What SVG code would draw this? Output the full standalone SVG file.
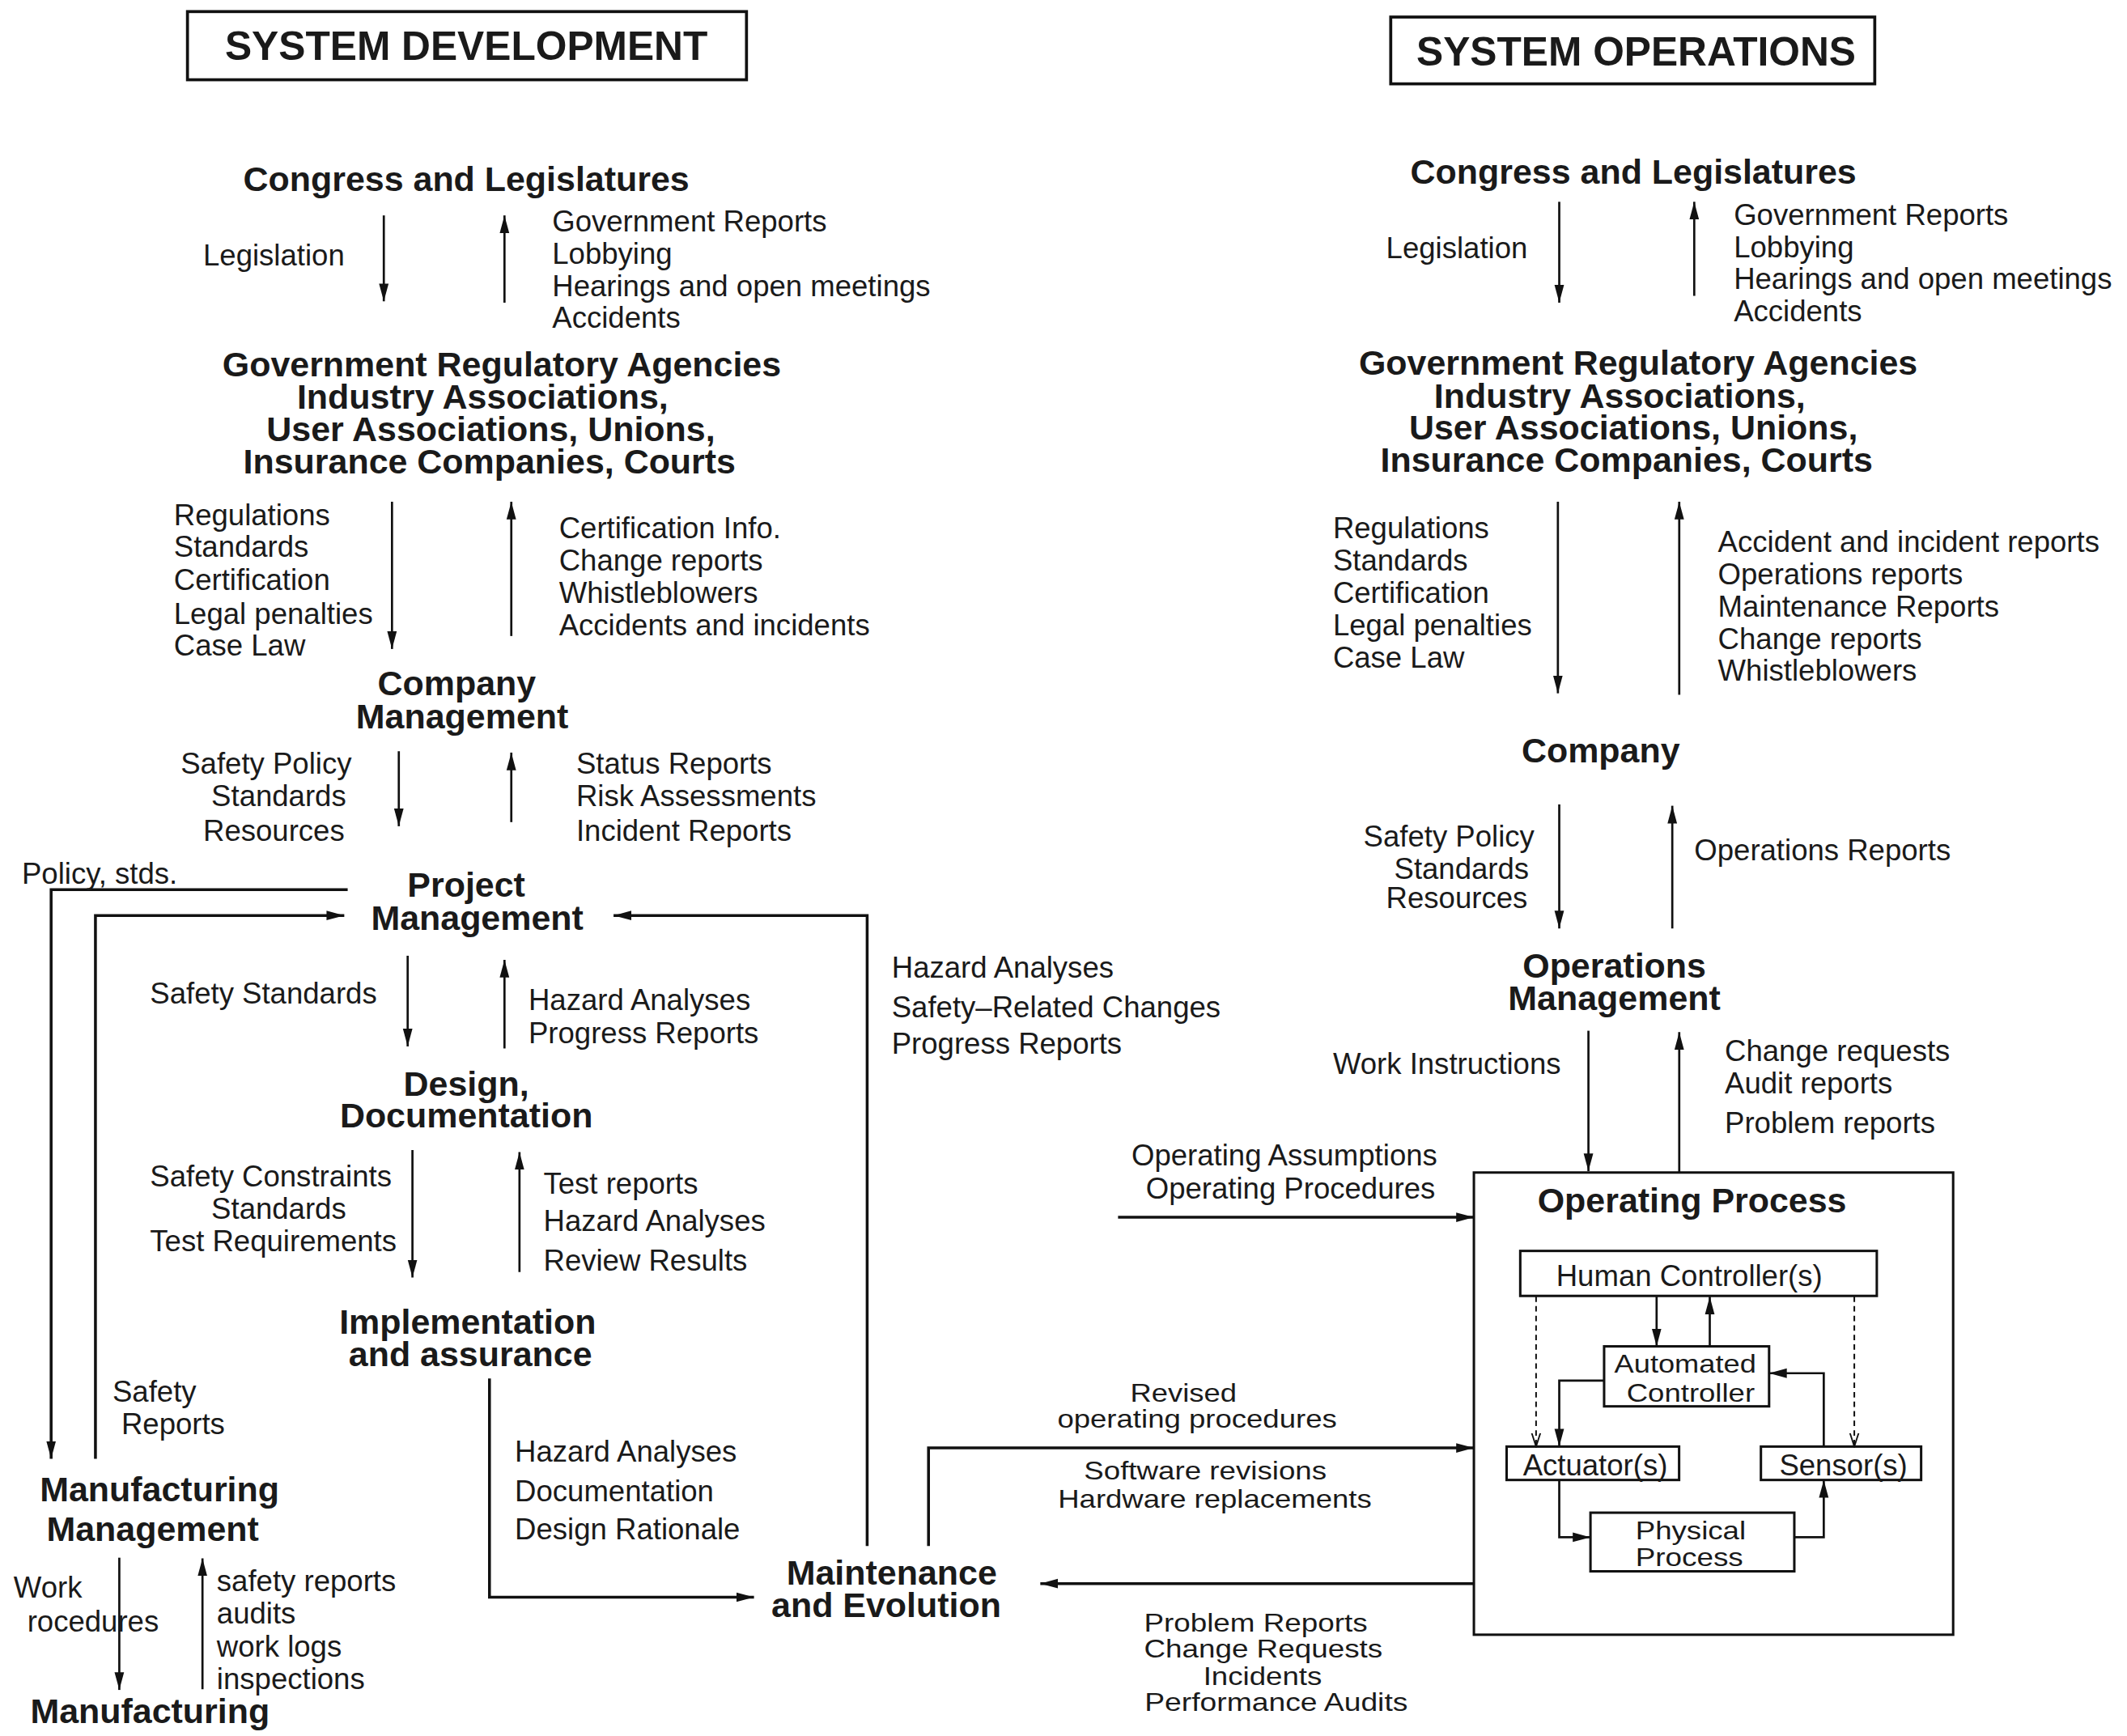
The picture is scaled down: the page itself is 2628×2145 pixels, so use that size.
<svg xmlns="http://www.w3.org/2000/svg" width="2628" height="2145" viewBox="0 0 2628 2145">
<defs>
<style>
text{font-family:"Liberation Sans",Arial,sans-serif;fill:#1a1a1a}
.h{font-size:25.5px;font-weight:bold;text-anchor:middle}
.ti{font-size:29.5px;font-weight:bold;text-anchor:middle}
.t{font-size:21.7px}
.s{font-size:19px}
.m{text-anchor:middle}
.box{fill:none;stroke:#111;stroke-width:1.8}
.tb{fill:none;stroke:#111;stroke-width:2.2}
.ln{fill:none;stroke:#111;stroke-width:1.6}
.lt{fill:none;stroke:#111;stroke-width:2.1}
.ds{fill:none;stroke:#111;stroke-width:1.2;stroke-dasharray:4 3}
</style>
<marker id="ah" markerUnits="userSpaceOnUse" markerWidth="14" markerHeight="8" refX="13" refY="4" orient="auto"><path d="M0,0.5 L13,4 L0,7.5 z" fill="#111"/></marker>
<marker id="ov" markerUnits="userSpaceOnUse" markerWidth="11" markerHeight="8" refX="10" refY="4" orient="auto"><path d="M0,0.8 L10,4 L0,7.2" fill="none" stroke="#111" stroke-width="1.1"/></marker>
</defs>
<rect width="2628" height="2145" fill="#fff"/>
<g transform="scale(1.684615)">

<g id="title-dev"><rect class="tb" x="137.5" y="8.5" width="410" height="50"/><text class="ti" x="342" y="44">SYSTEM DEVELOPMENT</text></g>
<g id="title-ops"><rect class="tb" x="1020" y="12.5" width="355" height="49"/><text class="ti" x="1200" y="48">SYSTEM OPERATIONS</text></g>

<g id="dev-congress"><text class="h" x="342" y="140">Congress and Legislatures</text></g>
<g id="dev-regulators">
<text class="h" x="368" y="276">Government Regulatory Agencies</text>
<text class="h" x="354" y="300">Industry Associations,</text>
<text class="h" x="360" y="323.5">User Associations, Unions,</text>
<text class="h" x="359" y="347">Insurance Companies, Courts</text>
</g>
<g id="dev-company"><text class="h" x="335" y="510">Company</text><text class="h" x="339" y="534">Management</text></g>
<g id="dev-project"><text class="h" x="342" y="658">Project</text><text class="h" x="350" y="682">Management</text></g>
<g id="dev-design"><text class="h" x="342" y="804">Design,</text><text class="h" x="342" y="827">Documentation</text></g>
<g id="dev-impl"><text class="h" x="343" y="978">Implementation</text><text class="h" x="345" y="1002">and assurance</text></g>
<g id="dev-mfgmgmt"><text class="h" x="117" y="1101">Manufacturing</text><text class="h" x="112" y="1130">Management</text></g>
<g id="dev-mfg"><text class="h" x="110" y="1264">Manufacturing</text></g>
<g id="dev-maint"><text class="h" x="654" y="1162">Maintenance</text><text class="h" x="650" y="1186">and Evolution</text></g>

<g id="ops-congress"><text class="h" x="1198" y="135">Congress and Legislatures</text></g>
<g id="ops-regulators">
<text class="h" x="1201.5" y="275">Government Regulatory Agencies</text>
<text class="h" x="1188" y="299">Industry Associations,</text>
<text class="h" x="1198" y="322.5">User Associations, Unions,</text>
<text class="h" x="1193" y="346">Insurance Companies, Courts</text>
</g>
<g id="ops-company"><text class="h" x="1174" y="559">Company</text></g>
<g id="ops-opsmgmt"><text class="h" x="1184" y="717">Operations</text><text class="h" x="1184" y="741">Management</text></g>
<g id="ops-process">
<rect class="box" x="1081" y="860" width="351.5" height="339"/>
<text class="h" x="1241" y="889">Operating Process</text>
</g>
<g id="ops-human"><rect class="box" x="1115" y="917.5" width="261.5" height="33"/><text class="t m" x="1239" y="943.5">Human Controller(s)</text></g>
<g id="ops-auto"><rect class="box" x="1176.5" y="987.5" width="121" height="44"/><text class="s m" x="1236" y="1007" textLength="104" lengthAdjust="spacingAndGlyphs">Automated</text><text class="s m" x="1240" y="1028" textLength="94" lengthAdjust="spacingAndGlyphs">Controller</text></g>
<g id="ops-actuator"><rect class="box" x="1105" y="1061" width="126.5" height="24.5"/><text class="t m" x="1170" y="1082">Actuator(s)</text></g>
<g id="ops-sensor"><rect class="box" x="1291.5" y="1061" width="117.5" height="24.5"/><text class="t m" x="1352" y="1082">Sensor(s)</text></g>
<g id="ops-physical"><rect class="box" x="1166.5" y="1109.5" width="149.5" height="43"/><text class="s m" x="1240" y="1129" textLength="81" lengthAdjust="spacingAndGlyphs">Physical</text><text class="s m" x="1239" y="1148.5" textLength="79" lengthAdjust="spacingAndGlyphs">Process</text></g>

<g id="connectors">
<path class="ln" d="M281.5,158 V221" marker-end="url(#ah)"/>
<path class="ln" d="M370,222 V158" marker-end="url(#ah)"/>
<path class="ln" d="M287.5,368 V476" marker-end="url(#ah)"/>
<path class="ln" d="M375,466.5 V368" marker-end="url(#ah)"/>
<path class="ln" d="M292.5,551 V606" marker-end="url(#ah)"/>
<path class="ln" d="M375,603 V552" marker-end="url(#ah)"/>
<path class="lt" d="M255,652.5 H37.5 V1070" marker-end="url(#ah)"/>
<path class="lt" d="M70,1070 V671.5 H252.5" marker-end="url(#ah)"/>
<path class="ln" d="M299,701 V767.5" marker-end="url(#ah)"/>
<path class="ln" d="M370,769 V704" marker-end="url(#ah)"/>
<path class="ln" d="M302.5,843.5 V937" marker-end="url(#ah)"/>
<path class="ln" d="M381,933 V845" marker-end="url(#ah)"/>
<path class="lt" d="M359,1011 V1171.5 H553" marker-end="url(#ah)"/>
<path class="lt" d="M636,1134 V671.5 H450" marker-end="url(#ah)"/>
<path class="ln" d="M87.5,1142.5 V1239.5" marker-end="url(#ah)"/>
<path class="ln" d="M148.5,1239 V1143" marker-end="url(#ah)"/>
<path class="lt" d="M1081,1161.5 H763" marker-end="url(#ah)"/>
<path class="lt" d="M681,1134 V1062 H1081" marker-end="url(#ah)"/>
<path class="ln" d="M1143.6,148 V222" marker-end="url(#ah)"/>
<path class="ln" d="M1242.6,217 V148" marker-end="url(#ah)"/>
<path class="ln" d="M1142.6,368 V508.5" marker-end="url(#ah)"/>
<path class="ln" d="M1231.6,509.6 V368" marker-end="url(#ah)"/>
<path class="ln" d="M1143.6,590 V681" marker-end="url(#ah)"/>
<path class="ln" d="M1226.5,681 V591" marker-end="url(#ah)"/>
<path class="ln" d="M1165,756 V859" marker-end="url(#ah)"/>
<path class="ln" d="M1231.6,860 V757" marker-end="url(#ah)"/>
<path class="lt" d="M820,892.8 H1081" marker-end="url(#ah)"/>
<path class="ds" d="M1126.6,951 V1061" marker-end="url(#ov)"/>
<path class="ds" d="M1360,951 V1061" marker-end="url(#ov)"/>
<path class="ln" d="M1215,951 V987.5" marker-end="url(#ah)"/>
<path class="ln" d="M1254,987.5 V951" marker-end="url(#ah)"/>
<path class="ln" d="M1176.5,1012.6 H1143.6 V1061" marker-end="url(#ah)"/>
<path class="ln" d="M1337.6,1061 V1007.2 H1297.5" marker-end="url(#ah)"/>
<path class="ln" d="M1143.6,1085.5 V1127.5 H1166.5" marker-end="url(#ah)"/>
<path class="ln" d="M1316,1127.5 H1337.6 V1085.5" marker-end="url(#ah)"/>
</g>

<g id="labels">
<text class="t" x="149" y="194.5">Legislation</text>
<text class="t" x="405" y="170">Government Reports</text>
<text class="t" x="405" y="193.5">Lobbying</text>
<text class="t" x="405" y="217">Hearings and open meetings</text>
<text class="t" x="405" y="240.5">Accidents</text>
<text class="t" x="127.5" y="385">Regulations</text>
<text class="t" x="127.5" y="408.5">Standards</text>
<text class="t" x="127.5" y="433">Certification</text>
<text class="t" x="127.5" y="457.5">Legal penalties</text>
<text class="t" x="127.5" y="481">Case Law</text>
<text class="t" x="410" y="395">Certification Info.</text>
<text class="t" x="410" y="418.5">Change reports</text>
<text class="t" x="410" y="442">Whistleblowers</text>
<text class="t" x="410" y="466">Accidents and incidents</text>
<text class="t" x="132.5" y="567.5">Safety Policy</text>
<text class="t" x="155" y="591">Standards</text>
<text class="t" x="149" y="616.5">Resources</text>
<text class="t" x="422.6" y="567.5">Status Reports</text>
<text class="t" x="422.6" y="591">Risk Assessments</text>
<text class="t" x="422.6" y="616.5">Incident Reports</text>
<text class="t" x="16" y="648">Policy, stds.</text>
<text class="t" x="110" y="736">Safety Standards</text>
<text class="t" x="387.6" y="741">Hazard Analyses</text>
<text class="t" x="387.6" y="765">Progress Reports</text>
<text class="t" x="654" y="717">Hazard Analyses</text>
<text class="t" x="654" y="746">Safety–Related Changes</text>
<text class="t" x="654" y="773">Progress Reports</text>
<text class="t" x="110" y="870.5">Safety Constraints</text>
<text class="t" x="155" y="894">Standards</text>
<text class="t" x="110" y="918">Test Requirements</text>
<text class="t" x="398.6" y="875.5">Test reports</text>
<text class="t" x="398.6" y="903">Hazard Analyses</text>
<text class="t" x="398.6" y="932">Review Results</text>
<text class="t" x="82.5" y="1028">Safety</text>
<text class="t" x="89" y="1052">Reports</text>
<text class="t" x="377.6" y="1072">Hazard Analyses</text>
<text class="t" x="377.6" y="1101">Documentation</text>
<text class="t" x="377.6" y="1129">Design Rationale</text>
<text class="t" x="10" y="1172">Work</text>
<text class="t" x="20" y="1197">rocedures</text>
<text class="t" x="159" y="1167">safety reports</text>
<text class="t" x="159" y="1191">audits</text>
<text class="t" x="159" y="1215">work logs</text>
<text class="t" x="159" y="1239">inspections</text>
<text class="s m" x="868" y="1028" textLength="78" lengthAdjust="spacingAndGlyphs">Revised</text>
<text class="s m" x="878" y="1047" textLength="205" lengthAdjust="spacingAndGlyphs">operating procedures</text>
<text class="s m" x="884" y="1085" textLength="178" lengthAdjust="spacingAndGlyphs">Software revisions</text>
<text class="s m" x="891" y="1106" textLength="230" lengthAdjust="spacingAndGlyphs">Hardware replacements</text>
<text class="s m" x="921" y="1197" textLength="164" lengthAdjust="spacingAndGlyphs">Problem Reports</text>
<text class="s m" x="926.5" y="1216" textLength="175" lengthAdjust="spacingAndGlyphs">Change Requests</text>
<text class="s m" x="926" y="1236" textLength="87" lengthAdjust="spacingAndGlyphs">Incidents</text>
<text class="s m" x="936" y="1255" textLength="193" lengthAdjust="spacingAndGlyphs">Performance Audits</text>

<text class="t" x="1016.6" y="189.5">Legislation</text>
<text class="t" x="1271.6" y="165">Government Reports</text>
<text class="t" x="1271.6" y="188.5">Lobbying</text>
<text class="t" x="1271.6" y="212">Hearings and open meetings</text>
<text class="t" x="1271.6" y="235.5">Accidents</text>
<text class="t" x="977.6" y="395">Regulations</text>
<text class="t" x="977.6" y="418.5">Standards</text>
<text class="t" x="977.6" y="442">Certification</text>
<text class="t" x="977.6" y="466">Legal penalties</text>
<text class="t" x="977.6" y="489.5">Case Law</text>
<text class="t" x="1260" y="405">Accident and incident reports</text>
<text class="t" x="1260" y="428.5">Operations reports</text>
<text class="t" x="1260" y="452.5">Maintenance Reports</text>
<text class="t" x="1260" y="476">Change reports</text>
<text class="t" x="1260" y="499.5">Whistleblowers</text>
<text class="t" x="1000" y="621">Safety Policy</text>
<text class="t" x="1022.5" y="644.5">Standards</text>
<text class="t" x="1016.6" y="666">Resources</text>
<text class="t" x="1242.6" y="631">Operations Reports</text>
<text class="t" x="977.6" y="788">Work Instructions</text>
<text class="t" x="1265" y="778">Change requests</text>
<text class="t" x="1265" y="802">Audit reports</text>
<text class="t" x="1265" y="831">Problem reports</text>
<text class="t m" x="942" y="855">Operating Assumptions</text>
<text class="t m" x="946.5" y="879">Operating Procedures</text>
</g>
</g>
</svg>
